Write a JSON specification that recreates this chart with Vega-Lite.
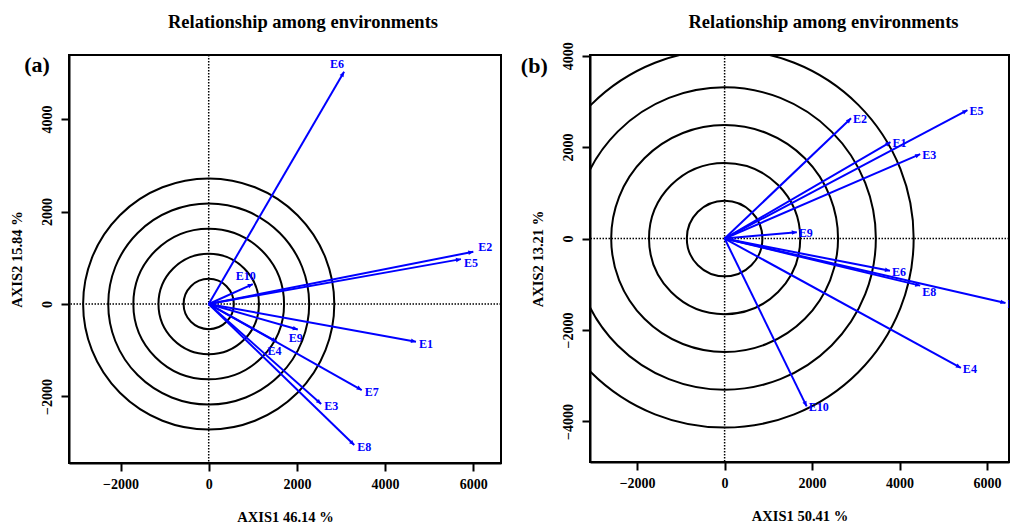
{
  "$schema": "https://vega.github.io/schema/vega-lite/v6.json",
  "padding": {"left": 7, "top": 12, "right": 0, "bottom": 0},
  "bounds": "flush",
  "spacing": 89,
  "background": "white",
  "resolve": {"scale": {"size": "independent"}},
  "config": {
    "view": {"stroke": "black", "strokeWidth": 2},
    "font": "Liberation Serif",
    "title": {"font": "Liberation Serif", "fontSize": 18.5, "fontWeight": "bold", "color": "black", "anchor": "middle", "frame": "group"},
    "axis": {
      "grid": false,
      "labelFont": "Liberation Serif", "labelFontSize": 14, "labelFontWeight": "bold", "labelColor": "black",
      "titleFont": "Liberation Serif", "titleFontSize": 14.5, "titleFontWeight": "bold", "titleColor": "black",
      "domainColor": "black", "domainWidth": 2, "tickColor": "black", "tickWidth": 2, "tickSize": 8,
      "labelFlush": false, "labelOverlap": false, "format": "d"
    },
    "axisX": {"labelPadding": 6, "titlePadding": 19},
    "axisY": {"labelAngle": -90, "labelAlign": "center", "labelBaseline": "bottom", "labelPadding": 6.5, "titlePadding": 16.5}
  },
  "datasets": {
    "vecA": [
      {"env": "E1", "x": 4700, "y": -815},
      {"env": "E2", "x": 6000, "y": 1130},
      {"env": "E3", "x": 2550, "y": -2160},
      {"env": "E4", "x": 1540, "y": -815},
      {"env": "E5", "x": 5720, "y": 970},
      {"env": "E6", "x": 3070, "y": 5020},
      {"env": "E7", "x": 3470, "y": -1860},
      {"env": "E8", "x": 3300, "y": -3050},
      {"env": "E9", "x": 2020, "y": -550},
      {"env": "E10", "x": 1000, "y": 430}
    ],
    "vecB": [
      {"env": "E1", "x": 3790, "y": 2110},
      {"env": "E2", "x": 2890, "y": 2630},
      {"env": "E3", "x": 4470, "y": 1845},
      {"env": "E4", "x": 5400, "y": -2830},
      {"env": "E5", "x": 5550, "y": 2810},
      {"env": "E6", "x": 3780, "y": -705},
      {"env": "E7", "x": 6420, "y": -1410},
      {"env": "E8", "x": 4470, "y": -1030},
      {"env": "E9", "x": 1650, "y": 140},
      {"env": "E10", "x": 1875, "y": -3670}
    ],
    "ringsA": [{"r": 556}, {"r": 1112}, {"r": 1668}, {"r": 2224}, {"r": 2780}],
    "ringsB": [{"r": 845}, {"r": 1690}, {"r": 2535}, {"r": 3380}, {"r": 4225}],
    "origin": [{"x": 0, "y": 0}]
  },
  "hconcat": [
    {
      "width": 432,
      "height": 408,
      "title": {"text": "Relationship among environments", "dx": 18, "offset": 22},
      "layer": [
        {
          "data": {"name": "ringsA"},
          "mark": {"type": "point", "shape": "circle", "filled": false, "stroke": "black", "strokeWidth": 2, "opacity": 1, "clip": true},
          "encoding": {
            "x": {"datum": 0, "type": "quantitative", "scale": {"domain": [-3168, 6628], "nice": false, "zero": false},
                  "axis": {"title": "AXIS1 46.14 %", "values": [-2000, 0, 2000, 4000, 6000]}},
            "y": {"datum": 0, "type": "quantitative", "scale": {"domain": [-3438, 5384], "nice": false, "zero": false},
                  "axis": {"title": "AXIS2 15.84 %", "values": [-2000, 0, 2000, 4000]}},
            "size": {"field": "r", "type": "quantitative", "scale": {"type": "pow", "exponent": 2, "domain": [0, 2780], "range": [0, 63101]}, "legend": null}
          }
        },
        {
          "data": {"name": "origin"},
          "mark": {"type": "rule", "color": "black", "strokeWidth": 1.5, "strokeDash": [1.5, 1.5]},
          "encoding": {"x": {"field": "x", "type": "quantitative"}}
        },
        {
          "data": {"name": "origin"},
          "mark": {"type": "rule", "color": "black", "strokeWidth": 1.5, "strokeDash": [1.5, 1.5]},
          "encoding": {"y": {"field": "y", "type": "quantitative"}}
        },
        {
          "data": {"name": "vecA"},
          "mark": {"type": "rule", "color": "#0000FF", "strokeWidth": 2},
          "encoding": {
            "x": {"field": "x", "type": "quantitative"},
            "y": {"field": "y", "type": "quantitative"},
            "x2": {"datum": 0},
            "y2": {"datum": 0}
          }
        },
        {
          "data": {"name": "vecA"},
          "transform": [{"calculate": "atan2(datum.x, datum.y * 1.05) * 180 / PI", "as": "heading"}],
          "mark": {"type": "point", "shape": "M0,0L-0.45,1L0.45,1Z", "filled": true, "color": "#0000FF", "opacity": 1, "size": 100},
          "encoding": {
            "x": {"field": "x", "type": "quantitative"},
            "y": {"field": "y", "type": "quantitative"},
            "angle": {"field": "heading", "type": "quantitative", "scale": null}
          }
        },
        {
          "data": {"name": "vecA"},
          "transform": [{"filter": {"field": "env", "oneOf": ["E1", "E3", "E7", "E8"]}}],
          "mark": {"type": "text", "align": "left", "baseline": "middle", "dx": 3, "dy": 2, "font": "Liberation Serif", "fontWeight": "bold", "fontSize": 12, "color": "#0000FF"},
          "encoding": {"x": {"field": "x", "type": "quantitative"}, "y": {"field": "y", "type": "quantitative"}, "text": {"field": "env"}}
        },
        {
          "data": {"name": "vecA"},
          "transform": [{"filter": {"field": "env", "equal": "E2"}}],
          "mark": {"type": "text", "align": "left", "baseline": "middle", "dx": 5, "dy": -5, "font": "Liberation Serif", "fontWeight": "bold", "fontSize": 12, "color": "#0000FF"},
          "encoding": {"x": {"field": "x", "type": "quantitative"}, "y": {"field": "y", "type": "quantitative"}, "text": {"field": "env"}}
        },
        {
          "data": {"name": "vecA"},
          "transform": [{"filter": {"field": "env", "equal": "E5"}}],
          "mark": {"type": "text", "align": "left", "baseline": "middle", "dx": 3, "dy": 4, "font": "Liberation Serif", "fontWeight": "bold", "fontSize": 12, "color": "#0000FF"},
          "encoding": {"x": {"field": "x", "type": "quantitative"}, "y": {"field": "y", "type": "quantitative"}, "text": {"field": "env"}}
        },
        {
          "data": {"name": "vecA"},
          "transform": [{"filter": {"field": "env", "oneOf": ["E4", "E9"]}}],
          "mark": {"type": "text", "align": "center", "baseline": "middle", "dx": -2, "dy": 9, "font": "Liberation Serif", "fontWeight": "bold", "fontSize": 12, "color": "#0000FF"},
          "encoding": {"x": {"field": "x", "type": "quantitative"}, "y": {"field": "y", "type": "quantitative"}, "text": {"field": "env"}}
        },
        {
          "data": {"name": "vecA"},
          "transform": [{"filter": {"field": "env", "oneOf": ["E6", "E10"]}}],
          "mark": {"type": "text", "align": "center", "baseline": "middle", "dx": -7, "dy": -8, "font": "Liberation Serif", "fontWeight": "bold", "fontSize": 12, "color": "#0000FF"},
          "encoding": {"x": {"field": "x", "type": "quantitative"}, "y": {"field": "y", "type": "quantitative"}, "text": {"field": "env"}}
        },
        {
          "data": {"values": [{"tag": "(a)"}]},
          "mark": {"type": "text", "align": "center", "baseline": "middle", "font": "Liberation Serif", "fontWeight": "bold", "fontSize": 22, "color": "black"},
          "encoding": {"x": {"datum": -3893}, "y": {"datum": 5168}, "text": {"field": "tag"}}
        }
      ]
    },
    {
      "width": 419,
      "height": 407,
      "title": {"text": "Relationship among environments", "dx": 24, "offset": 10},
      "layer": [
        {
          "data": {"name": "ringsB"},
          "mark": {"type": "point", "shape": "circle", "filled": false, "stroke": "black", "strokeWidth": 2, "opacity": 1, "clip": true},
          "encoding": {
            "x": {"datum": 0, "type": "quantitative", "scale": {"domain": [-3077, 6500], "nice": false, "zero": false},
                  "axis": {"title": "AXIS1 50.41 %", "values": [-2000, 0, 2000, 4000, 6000]}},
            "y": {"datum": 0, "type": "quantitative", "scale": {"domain": [-4888, 4015], "nice": false, "zero": false},
                  "axis": {"title": "AXIS2 13.21 %", "values": [-4000, -2000, 0, 2000, 4000]}},
            "size": {"field": "r", "type": "quantitative", "scale": {"type": "pow", "exponent": 2, "domain": [0, 4225], "range": [0, 142960]}, "legend": null}
          }
        },
        {
          "data": {"name": "origin"},
          "mark": {"type": "rule", "color": "black", "strokeWidth": 1.5, "strokeDash": [1.5, 1.5]},
          "encoding": {"x": {"field": "x", "type": "quantitative"}}
        },
        {
          "data": {"name": "origin"},
          "mark": {"type": "rule", "color": "black", "strokeWidth": 1.5, "strokeDash": [1.5, 1.5]},
          "encoding": {"y": {"field": "y", "type": "quantitative"}}
        },
        {
          "data": {"name": "vecB"},
          "mark": {"type": "rule", "color": "#0000FF", "strokeWidth": 2, "clip": true},
          "encoding": {
            "x": {"field": "x", "type": "quantitative"},
            "y": {"field": "y", "type": "quantitative"},
            "x2": {"datum": 0},
            "y2": {"datum": 0}
          }
        },
        {
          "data": {"name": "vecB"},
          "transform": [{"calculate": "atan2(datum.x, datum.y * 1.05) * 180 / PI", "as": "heading"}],
          "mark": {"type": "point", "shape": "M0,0L-0.45,1L0.45,1Z", "filled": true, "color": "#0000FF", "opacity": 1, "size": 100, "clip": true},
          "encoding": {
            "x": {"field": "x", "type": "quantitative"},
            "y": {"field": "y", "type": "quantitative"},
            "angle": {"field": "heading", "type": "quantitative", "scale": null}
          }
        },
        {
          "data": {"name": "vecB"},
          "transform": [{"filter": {"not": {"field": "env", "equal": "E8"}}}],
          "mark": {"type": "text", "align": "left", "baseline": "middle", "dx": 2, "dy": 1, "font": "Liberation Serif", "fontWeight": "bold", "fontSize": 12, "color": "#0000FF", "clip": true},
          "encoding": {"x": {"field": "x", "type": "quantitative"}, "y": {"field": "y", "type": "quantitative"}, "text": {"field": "env"}}
        },
        {
          "data": {"name": "vecB"},
          "transform": [{"filter": {"field": "env", "equal": "E8"}}],
          "mark": {"type": "text", "align": "left", "baseline": "middle", "dx": 2, "dy": 6, "font": "Liberation Serif", "fontWeight": "bold", "fontSize": 12, "color": "#0000FF", "clip": true},
          "encoding": {"x": {"field": "x", "type": "quantitative"}, "y": {"field": "y", "type": "quantitative"}, "text": {"field": "env"}}
        },
        {
          "data": {"values": [{"tag": "(b)"}]},
          "mark": {"type": "text", "align": "center", "baseline": "middle", "font": "Liberation Serif", "fontWeight": "bold", "fontSize": 22, "color": "black"},
          "encoding": {"x": {"datum": -4350}, "y": {"datum": 3775}, "text": {"field": "tag"}}
        }
      ]
    }
  ]
}
